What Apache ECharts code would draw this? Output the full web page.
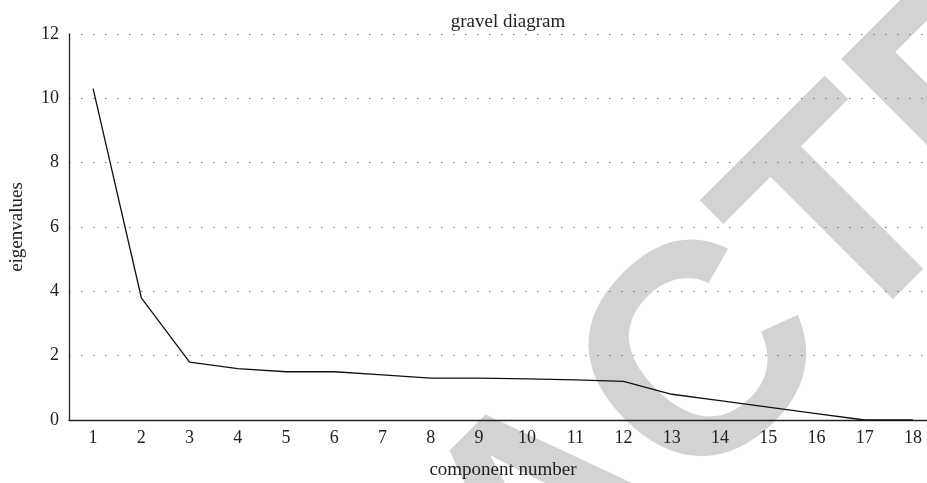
<!DOCTYPE html>
<html>
<head>
<meta charset="utf-8">
<script src="https://cdn.jsdelivr.net/npm/echarts@6/dist/echarts.min.js"></script>
<style>html,body{margin:0;padding:0;background:#fff;}#c{width:927px;height:483px;}</style>
</head>
<body>
<div id="c"></div>
<script>
var categories = ['1','2','3','4','5','6','7','8','9','10','11','12','13','14','15','16','17','18'];
var eigenvalues = [10.3, 3.8, 1.8, 1.6, 1.5, 1.5, 1.4, 1.3, 1.3, 1.28, 1.25, 1.2, 0.8, 0.6, 0.4, 0.2, 0, 0];
var yTicks = [0, 2, 4, 6, 8, 10, 12];
var titleText = 'gravel diagram';
var xName = 'component number';
var yName = 'eigenvalues';
var watermark = 'RETRACTED';

var FONT = 'Liberation Serif';
var chart = echarts.init(document.getElementById('c'), null, {renderer: 'canvas'});
chart.setOption({
  animation: false,
  backgroundColor: '#fff',
  title: {
    text: titleText,
    left: 503, top: 8,
    textAlign: 'center',
    textStyle: {fontFamily: FONT, fontSize: 19, fontWeight: 'normal', color: '#222'}
  },
  graphic: [{
    type: 'text', z: -10, silent: true,
    x: 555, y: 520, rotation: Math.PI / 4,
    style: {
      text: watermark, fill: '#d3d3d3',
      font: 'bold 300px "Liberation Sans"',
      textAlign: 'center', textVerticalAlign: 'middle'
    }
  }],
  grid: {left: 69, top: 34, width: 868, bottom: 63, containLabel: false, outerBoundsMode: 'none'},
  xAxis: {
    type: 'category', data: categories, boundaryGap: true,
    name: xName, nameLocation: 'middle', nameGap: 41,
    nameTextStyle: {fontFamily: FONT, fontSize: 19, color: '#222'},
    axisLine: {lineStyle: {color: '#222', width: 1.3}},
    axisTick: {show: false},
    axisLabel: {fontFamily: FONT, fontSize: 18, color: '#222', margin: 9},
    splitLine: {show: false}
  },
  yAxis: {
    type: 'value', min: yTicks[0], max: yTicks[yTicks.length - 1], interval: 2,
    name: yName, nameLocation: 'middle', nameGap: 42,
    nameTextStyle: {fontFamily: FONT, fontSize: 19, color: '#222'},
    axisLine: {show: true, lineStyle: {color: '#222', width: 1.3}},
    axisTick: {show: false},
    axisLabel: {fontFamily: FONT, fontSize: 18, color: '#222', margin: 10},
    splitLine: {show: true, lineStyle: {color: '#777', width: 1, type: [1.5, 10.5]}}
  },
  series: [{
    type: 'line', data: eigenvalues, showSymbol: false, symbol: 'none',
    lineStyle: {color: '#111', width: 1.3}, z: 5
  }]
});
</script>
</body>
</html>
